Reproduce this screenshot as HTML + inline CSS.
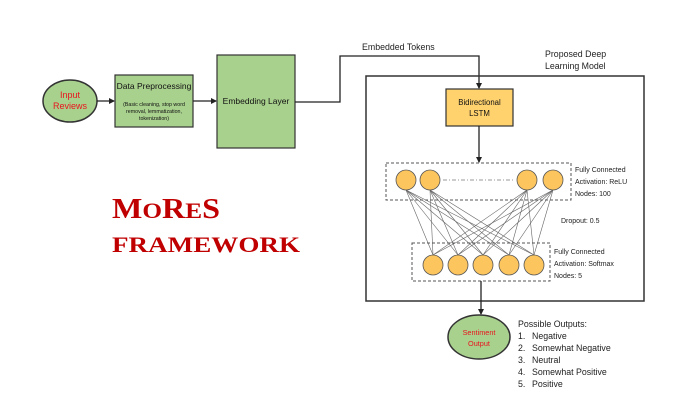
<!DOCTYPE html>
<html><head><meta charset="utf-8"><style>
html,body{margin:0;padding:0;background:#fff;}
svg{display:block;font-family:"Liberation Sans",sans-serif;}
</style></head><body>
<svg width="684" height="417" viewBox="0 0 684 417" xmlns="http://www.w3.org/2000/svg">
<defs>
<marker id="ah" markerWidth="6" markerHeight="6" refX="5" refY="3" orient="auto" markerUnits="userSpaceOnUse"><path d="M0,0 L6,3 L0,6 z" fill="#222"/></marker>
</defs>
<ellipse cx="70" cy="101" rx="27" ry="21" fill="#a9d18e" stroke="#333" stroke-width="1.5"/>
<text x="70" y="98" font-size="9" fill="#e8141c" text-anchor="middle">Input</text>
<text x="70" y="109" font-size="9" fill="#e8141c" text-anchor="middle">Reviews</text>
<line x1="97" y1="101" x2="114" y2="101" stroke="#222" stroke-width="1.3" marker-end="url(#ah)"/>
<rect x="115" y="75" width="78" height="52" fill="#a9d18e" stroke="#333" stroke-width="1.2"/>
<text x="154" y="89" font-size="8.5" fill="#111" text-anchor="middle">Data Preprocessing</text>
<text x="154" y="106" font-size="5.3" fill="#111" text-anchor="middle">(Basic cleaning, stop word</text>
<text x="154" y="113" font-size="5.3" fill="#111" text-anchor="middle">removal, lemmatization,</text>
<text x="154" y="120" font-size="5.3" fill="#111" text-anchor="middle">tokenization)</text>
<line x1="193" y1="101" x2="216" y2="101" stroke="#222" stroke-width="1.3" marker-end="url(#ah)"/>
<rect x="217" y="55" width="78" height="93" fill="#a9d18e" stroke="#333" stroke-width="1.2"/>
<text x="256" y="104" font-size="8.5" fill="#111" text-anchor="middle">Embedding Layer</text>
<polyline points="295,102 340,102 340,56 479,56 479,88" fill="none" stroke="#222" stroke-width="1.3" marker-end="url(#ah)"/>
<text x="362" y="50" font-size="8.8" fill="#222">Embedded Tokens</text>
<text x="545" y="57" font-size="8.8" fill="#222">Proposed Deep</text>
<text x="545" y="69" font-size="8.8" fill="#222">Learning Model</text>
<rect x="366" y="76" width="278" height="225" fill="none" stroke="#333" stroke-width="1.5"/>
<rect x="446" y="89" width="67" height="37" fill="#ffd26e" stroke="#333" stroke-width="1.2"/>
<text x="479.5" y="105" font-size="7.8" fill="#111" text-anchor="middle">Bidirectional</text>
<text x="479.5" y="116" font-size="7.8" fill="#111" text-anchor="middle">LSTM</text>
<line x1="479" y1="126" x2="479" y2="162" stroke="#222" stroke-width="1.3" marker-end="url(#ah)"/>
<rect x="386" y="163" width="185" height="37" fill="none" stroke="#555" stroke-width="1" stroke-dasharray="3,2"/>
<line x1="443" y1="180" x2="513" y2="180" stroke="#777" stroke-width="0.8" stroke-dasharray="4,2,1,2"/>
<g stroke="#666" stroke-width="0.6">
<line x1="406" y1="190" x2="433" y2="255"/><line x1="406" y1="190" x2="458" y2="255"/><line x1="406" y1="190" x2="483" y2="255"/><line x1="406" y1="190" x2="509" y2="255"/><line x1="406" y1="190" x2="534" y2="255"/>
<line x1="430" y1="190" x2="433" y2="255"/><line x1="430" y1="190" x2="458" y2="255"/><line x1="430" y1="190" x2="483" y2="255"/><line x1="430" y1="190" x2="509" y2="255"/><line x1="430" y1="190" x2="534" y2="255"/>
<line x1="527" y1="190" x2="433" y2="255"/><line x1="527" y1="190" x2="458" y2="255"/><line x1="527" y1="190" x2="483" y2="255"/><line x1="527" y1="190" x2="509" y2="255"/><line x1="527" y1="190" x2="534" y2="255"/>
<line x1="553" y1="190" x2="433" y2="255"/><line x1="553" y1="190" x2="458" y2="255"/><line x1="553" y1="190" x2="483" y2="255"/><line x1="553" y1="190" x2="509" y2="255"/><line x1="553" y1="190" x2="534" y2="255"/>
</g>
<g fill="#fcc55e" stroke="#555" stroke-width="0.8">
<circle cx="406" cy="180" r="10"/><circle cx="430" cy="180" r="10"/><circle cx="527" cy="180" r="10"/><circle cx="553" cy="180" r="10"/>
</g>
<text font-size="7" fill="#222"><tspan x="575" y="172">Fully Connected</tspan><tspan x="575" y="184">Activation: ReLU</tspan><tspan x="575" y="196">Nodes: 100</tspan></text>
<text x="561" y="223" font-size="7" fill="#222">Dropout: 0.5</text>
<rect x="412" y="243" width="138" height="38" fill="none" stroke="#555" stroke-width="1" stroke-dasharray="3,2"/>
<g fill="#fcc55e" stroke="#555" stroke-width="0.8">
<circle cx="433" cy="265" r="10"/><circle cx="458" cy="265" r="10"/><circle cx="483" cy="265" r="10"/><circle cx="509" cy="265" r="10"/><circle cx="534" cy="265" r="10"/>
</g>
<text font-size="7" fill="#222"><tspan x="554" y="254">Fully Connected</tspan><tspan x="554" y="266">Activation: Softmax</tspan><tspan x="554" y="278">Nodes: 5</tspan></text>
<line x1="481" y1="281" x2="481" y2="314" stroke="#222" stroke-width="1.3" marker-end="url(#ah)"/>
<ellipse cx="479" cy="337" rx="31" ry="22" fill="#a9d18e" stroke="#333" stroke-width="1.5"/>
<text x="479" y="335" font-size="7.3" fill="#e8141c" text-anchor="middle">Sentiment</text>
<text x="479" y="346" font-size="7.3" fill="#e8141c" text-anchor="middle">Output</text>
<text font-size="8.8" fill="#222">
<tspan x="518" y="327">Possible Outputs:</tspan>
<tspan x="518" y="339">1.</tspan><tspan x="532" y="339">Negative</tspan>
<tspan x="518" y="351">2.</tspan><tspan x="532" y="351">Somewhat Negative</tspan>
<tspan x="518" y="363">3.</tspan><tspan x="532" y="363">Neutral</tspan>
<tspan x="518" y="375">4.</tspan><tspan x="532" y="375">Somewhat Positive</tspan>
<tspan x="518" y="387">5.</tspan><tspan x="532" y="387">Positive</tspan>
</text>
<text x="112" y="218" font-family="Liberation Serif,serif" font-weight="bold" fill="#c00000" textLength="108" lengthAdjust="spacingAndGlyphs"><tspan font-size="28">M</tspan><tspan font-size="22">O</tspan><tspan font-size="28">R</tspan><tspan font-size="22">E</tspan><tspan font-size="28">S</tspan></text>
<text x="112" y="252" font-family="Liberation Serif,serif" font-weight="bold" fill="#c00000" font-size="22" textLength="188" lengthAdjust="spacingAndGlyphs">FRAMEWORK</text>
</svg>
</body></html>
